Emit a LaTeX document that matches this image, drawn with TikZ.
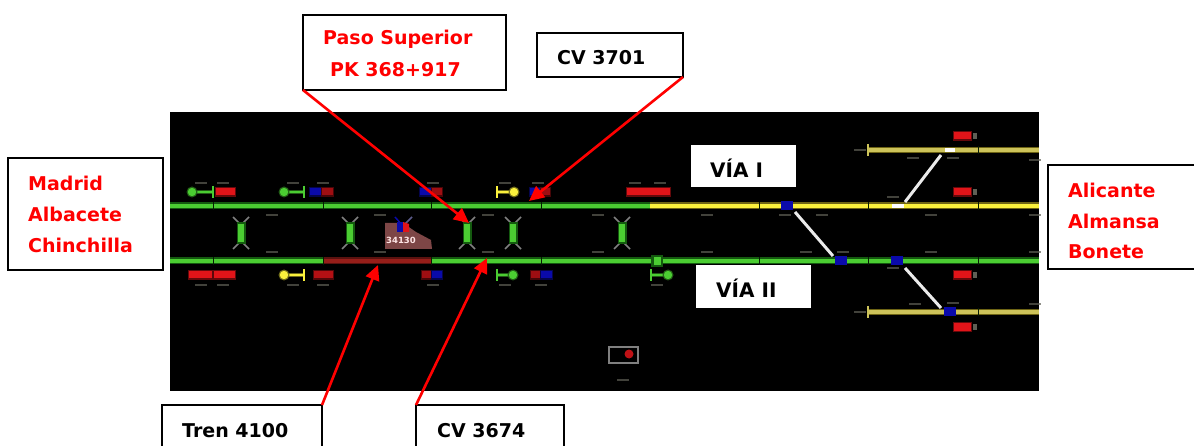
\documentclass[tikz,border=0pt]{standalone}
\usepackage{fontspec}
\setmainfont{DejaVu Sans}
\usetikzlibrary{arrows.meta}
\definecolor{arrowred}{RGB}{255,0,0}
\definecolor{trk}{RGB}{75,205,50}
\definecolor{trkdk}{RGB}{20,90,15}
\definecolor{ylw}{RGB}{250,240,60}
\definecolor{ylwdk}{RGB}{110,100,20}
\definecolor{khaki}{RGB}{205,195,90}
\definecolor{sigred}{RGB}{225,20,25}
\definecolor{sigblue}{RGB}{10,10,170}
\definecolor{lblgrey}{RGB}{95,95,85}
\definecolor{tagbrown}{RGB}{125,70,70}
\definecolor{occ}{RGB}{150,30,25}
\tikzset{x=1pt,y=-1pt,
  plate/.style={fill=white,draw=none,inner sep=0pt},
  boxline/.style={draw=black,line width=1.7pt,fill=white},
  redt/.style={text=arrowred,font=\bfseries\fontsize{19}{23}\selectfont},
  blkt/.style={text=black,font=\bfseries\fontsize{19}{23}\selectfont},
  viat/.style={text=black,font=\bfseries\fontsize{20}{24}\selectfont},
  pointer/.style={draw=arrowred,line width=2.6pt,-{Triangle[length=15pt,width=14pt]}},
  trackglow/.style={draw=trkdk,line width=7pt},
  trackline/.style={draw=trk,line width=4pt},
  joint/.style={draw=black!70!trkdk,line width=1pt},
  lbl/.style={draw=lblgrey,line width=2pt,opacity=.7},
  armgrey/.style={draw=gray,line width=1.5pt},
  whitetrack/.style={draw=white!92!black,line width=3pt},
  bluenode/.style={fill=sigblue,draw=none,minimum width=12pt,minimum height=9pt,inner sep=0pt},
}
\newcommand{\xing}[2]{%
  \draw[armgrey] (#1,#2-8) -- ++(-8,-8) (#1,#2-8) -- ++(8,-8);
  \draw[armgrey] (#1,#2+8) -- ++(-8,8) (#1,#2+8) -- ++(8,8);
  \fill[trkdk] (#1-4.5,#2-11) rectangle (#1+4.5,#2+11);
  \fill[trk] (#1-3,#2-9) rectangle (#1+3,#2+9);
}
\newcommand{\sigL}[4]{% circle x, bar x, y, colour
  \draw[#4!45!black,line width=4pt] (#1,#3) -- (#2,#3);
  \draw[#4,line width=2.2pt] (#1,#3) -- (#2,#3);
  \draw[#4,line width=2pt] (#2,#3-6) -- (#2,#3+6);
  \fill[#4!45!black] (#1,#3) circle (5.5);
  \fill[#4] (#1,#3) circle (4.2);
}
\newcommand{\blk}[4]{\fill[#4!45!black] (#1-1,#3-5) rectangle (#2+1,#3+5);\fill[#4] (#1,#3-3.5) rectangle (#2,#3+3.5);}
\newcommand{\lab}[2]{\draw[lbl] (#1-6,#2) -- (#1+6,#2);}
\begin{document}
\begin{tikzpicture}
\useasboundingbox (0,0) rectangle (1194,446);
\fill[white] (0,0) rectangle (1194,446);
\fill[black] (170,112) rectangle (1039,391);
% tracks
\draw[trackglow] (170,206) -- (650,206);
\draw[trackline] (170,206) -- (650,206);
\draw[draw=ylwdk,line width=7pt] (650,206) -- (1039,206);
\draw[draw=ylw,line width=4pt] (650,206) -- (1039,206);
\draw[trackglow] (170,261) -- (1039,261);
\draw[trackline] (170,261) -- (1039,261);
\draw[draw=occ!60!black,line width=7pt] (323,261) -- (431,261);
\draw[draw=occ,line width=4.5pt] (323,261) -- (431,261);
\draw[draw=ylwdk,line width=6pt] (868,150) -- (1039,150) (868,312) -- (1039,312);
\draw[draw=khaki,line width=3.5pt] (868,150) -- (1039,150) (868,312) -- (1039,312);
\draw[khaki,line width=1.5pt] (868,144) -- (868,156) (868,306) -- (868,318);
\foreach \j in {213,323,431,541,759,868,978}{\draw[joint] (\j,202) -- (\j,210) (\j,257) -- (\j,265);}
\foreach \j in {978}{\draw[joint] (\j,146) -- (\j,154) (\j,308) -- (\j,316);}
% crossovers
\draw[whitetrack] (795,212) -- (833,256);
\draw[whitetrack] (905,268) -- (941,308);
\draw[whitetrack] (905,202) -- (941,155);
\draw[white,line width=4pt] (892,206) -- (904,206) (945,150) -- (955,150);
\node[bluenode] (sw1) at (787,206) {};
\node[bluenode] (sw2) at (841,261) {};
\node[bluenode] (sw3) at (897,261) {};
\node[bluenode] (sw4) at (950,312) {};
% crossings
\xing{241}{233}\xing{350}{233}\xing{467}{233}\xing{513}{233}\xing{622}{233}
% train tag
\fill[tagbrown] (385,223) -- (403,223) -- (416,232) -- (431,240) -- (432,249) -- (385,249) -- cycle;
\draw[sigblue,line width=1.5pt] (403,226) -- (395,217);
\draw[gray!70!sigblue,line width=1.5pt] (403,226) -- (412,217);
\fill[sigblue] (397,222) -- (403,222) -- (403,232) -- (397,232) -- cycle;
\fill[sigred] (403,222) -- (409,224) -- (409,232) -- (403,232) -- cycle;
\node[text=white!90!red,font=\bfseries\fontsize{8.5}{10}\selectfont,inner sep=0pt] (tag) at (401,240) {34130};
% signals top
\sigL{192}{213}{192}{trk}\blk{216}{235}{192}{sigred}
\sigL{284}{304}{192}{trk}\blk{310}{322}{192}{sigblue}\blk{322}{333}{192}{sigred!70!black}
\blk{420}{432}{192}{sigblue}\blk{432}{442}{192}{sigred!70!black}
\sigL{514}{497}{192}{ylw}\blk{530}{541}{192}{sigblue}\blk{541}{550}{192}{sigred!70!black}
\blk{627}{670}{192}{sigred}
% signals bottom
\blk{189}{235}{275}{sigred}\fill[sigred!40!black] (212,271) rectangle (214,279);
\sigL{284}{304}{275}{ylw}\blk{314}{333}{275}{sigred!80!black}
\blk{422}{432}{275}{sigred!70!black}\blk{432}{442}{275}{sigblue}
\sigL{513}{497}{275}{trk}\blk{531}{541}{275}{sigred!70!black}\blk{541}{552}{275}{sigblue}
\fill[trkdk] (651,255) rectangle (663,267);\fill[trk] (653.5,257) rectangle (660.5,265);
\sigL{668}{651}{275}{trk}
% right hand red lights
\foreach \y in {136,192,275,327}{\blk{954}{971}{\y}{sigred}\fill[lblgrey] (973,\y-3) rectangle (977,\y+3);}
% small labels
\foreach \x/\y in {201/183,223/183,293/183,323/183,433/183,505/183,538/183,635/183,660/183,
 201/285,223/285,293/285,323/285,433/285,505/285,541/285,657/285,
 272/215,272/252,380/215,380/252,488/215,488/252,598/215,598/252,707/215,707/252,
 822/215,806/252,931/215,931/252,1035/215,1035/252,913/158,953/158,1035/160,915/304,953/303,1035/304,860/150,860/312,785/215,843/252,893/197,893/268}{\lab{\x}{\y}}
% bottom icon
\draw[gray,line width=1.3pt] (609,347) rectangle (638,363);
\fill[sigred!85!black] (629,354) circle (4.5);
\lab{623}{380}
% plates
\node[plate,minimum width=105pt,minimum height=42pt,anchor=north west] (via1) at (691,145) {};
\node[viat,anchor=west,inner sep=0pt] at (710,168) {VÍA I};
\node[plate,minimum width=115pt,minimum height=43pt,anchor=north west] (via2) at (696,265) {};
\node[viat,anchor=west,inner sep=0pt] at (716,288) {VÍA II};
% callouts
\draw[boxline] (303,15) rectangle (506,90);
\coordinate (pasoC) at (303,90);
\node[redt,anchor=west,inner sep=0pt] (paso1) at (323,39) {Paso Superior};
\node[redt,anchor=west,inner sep=0pt] (paso2) at (330,70) {PK 368+917};
\draw[boxline] (537,33) rectangle (683,77);
\coordinate (cvaC) at (683,77);
\node[blkt,anchor=west,inner sep=0pt] (cva) at (557,58) {CV 3701};
\draw[boxline] (8,158) rectangle (163,270);
\node[redt,anchor=west,inner sep=0pt] at (28,183) {Madrid};
\node[redt,anchor=west,inner sep=0pt] at (28,214) {Albacete};
\node[redt,anchor=west,inner sep=0pt] at (28,245) {Chinchilla};
\draw[boxline] (1048,165) rectangle (1200,269);
\node[redt,anchor=west,inner sep=0pt] at (1068,190) {Alicante};
\node[redt,anchor=west,inner sep=0pt] at (1068,221) {Almansa};
\node[redt,anchor=west,inner sep=0pt] at (1068,252) {Bonete};
\draw[boxline] (162,405) rectangle (322,452);
\coordinate (trenC) at (322,405);
\node[blkt,anchor=west,inner sep=0pt] at (182,431) {Tren 4100};
\draw[boxline] (416,405) rectangle (564,452);
\coordinate (cvbC) at (416,405);
\node[blkt,anchor=west,inner sep=0pt] at (437,431) {CV 3674};
% pointers
\coordinate (pasoT) at (469,223);
\coordinate (cvaT) at (529,201);
\coordinate (trenT) at (378,265);
\coordinate (cvbT) at (487,258);
\draw[pointer] (pasoC) -- (pasoT);
\draw[pointer] (cvaC) -- (cvaT);
\draw[pointer] (trenC) -- (trenT);
\draw[pointer] (cvbC) -- (cvbT);
\end{tikzpicture}
\end{document}
